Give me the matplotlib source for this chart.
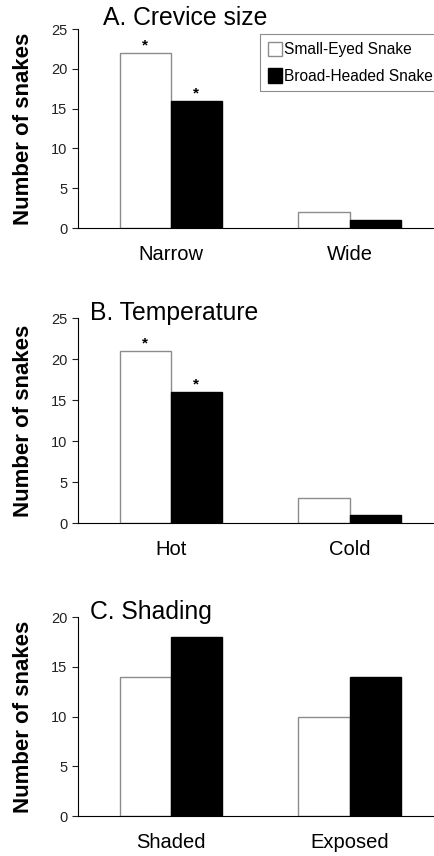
import matplotlib
matplotlib.use("Agg")
import matplotlib.pyplot as plt
from matplotlib.patches import Patch

plt.rcParams["font.family"] = ["Liberation Sans", "DejaVu Sans"]

series_names = ["Small-Eyed Snake", "Broad-Headed Snake"]

crevice_labels = ["Narrow", "Wide"]
crevice_small = [22, 2]
crevice_broad = [16, 1]
crevice_sig = [True, False]

temp_labels = ["Hot", "Cold"]
temp_small = [21, 3]
temp_broad = [16, 1]
temp_sig = [True, False]

shade_labels = ["Shaded", "Exposed"]
shade_small = [14, 10]
shade_broad = [18, 14]
shade_sig = [False, False]

panels = [
    ("A. Crevice size", crevice_labels, crevice_small, crevice_broad, crevice_sig, 25),
    ("B. Temperature", temp_labels, temp_small, temp_broad, temp_sig, 25),
    ("C. Shading", shade_labels, shade_small, shade_broad, shade_sig, 20),
]

# axes boxes in figure fraction: left, bottom, width, height
boxes = [
    [0.179, 0.7336, 0.83, 0.2325],
    [0.179, 0.389, 0.83, 0.2395],
    [0.179, 0.0467, 0.83, 0.2325],
]
title_pos = [(103 / 435, 1 - 18 / 856), (90 / 435, 1 - 313 / 856), (90 / 435, 1 - 612 / 856)]

fig = plt.figure(figsize=(4.35, 8.56), dpi=100)
width = 0.287

for i, (title, labels, small, broad, sig, ymax) in enumerate(panels):
    ax = fig.add_axes(boxes[i])
    xs = list(range(len(labels)))
    ax.bar([x - width / 2 for x in xs], small, width, color="white",
           edgecolor="#8c8c8c", linewidth=1)
    ax.bar([x + width / 2 for x in xs], broad, width, color="black",
           edgecolor="black", linewidth=1)
    for x, s, b, star in zip(xs, small, broad, sig):
        if star:
            ax.text(x - width / 2, s + 0.05, "*", ha="center", va="bottom",
                    fontsize=11, fontweight="bold")
            ax.text(x + width / 2, b + 0.05, "*", ha="center", va="bottom",
                    fontsize=11, fontweight="bold")
    ax.set_xlim(-0.52, 1.5)
    ax.set_ylim(0, ymax)
    ax.set_yticks(range(0, ymax + 1, 5))
    ax.set_xticks(xs)
    ax.set_xticklabels(labels, fontsize=14.5)
    ax.tick_params(axis="x", length=0, pad=12)
    ax.tick_params(axis="y", labelsize=10.5, length=4, width=0.8,
                   direction="out", colors="#222222")
    for side in ["top", "right"]:
        ax.spines[side].set_visible(False)
    ax.spines["left"].set_linewidth(0.8)
    ax.spines["bottom"].set_linewidth(0.8)
    b = boxes[i]
    fig.text(24 / 435, b[1] + b[3] / 2, "Number of snakes", rotation=90,
             fontsize=16, fontweight="bold", ha="center", va="center")
    fig.text(title_pos[i][0], title_pos[i][1], title, fontsize=17.8,
             ha="left", va="center")

    if i == 0:
        handles = [Patch(facecolor="white", edgecolor="#8c8c8c"),
                   Patch(facecolor="black", edgecolor="black")]
        # legend box runs past the right edge of the figure, as in the original
        leg = ax.legend(handles, series_names, loc="upper left",
                        bbox_to_anchor=(0.504, 0.0, 0.53, 0.975), mode="expand",
                        fontsize=11.2, fancybox=False, edgecolor="#8c8c8c",
                        framealpha=1, handlelength=0.9, handleheight=1.05,
                        handletextpad=0.15, borderpad=0.5, labelspacing=0.7,
                        borderaxespad=0)
        leg.get_frame().set_linewidth(0.8)

fig.savefig("out.png", dpi=100)
